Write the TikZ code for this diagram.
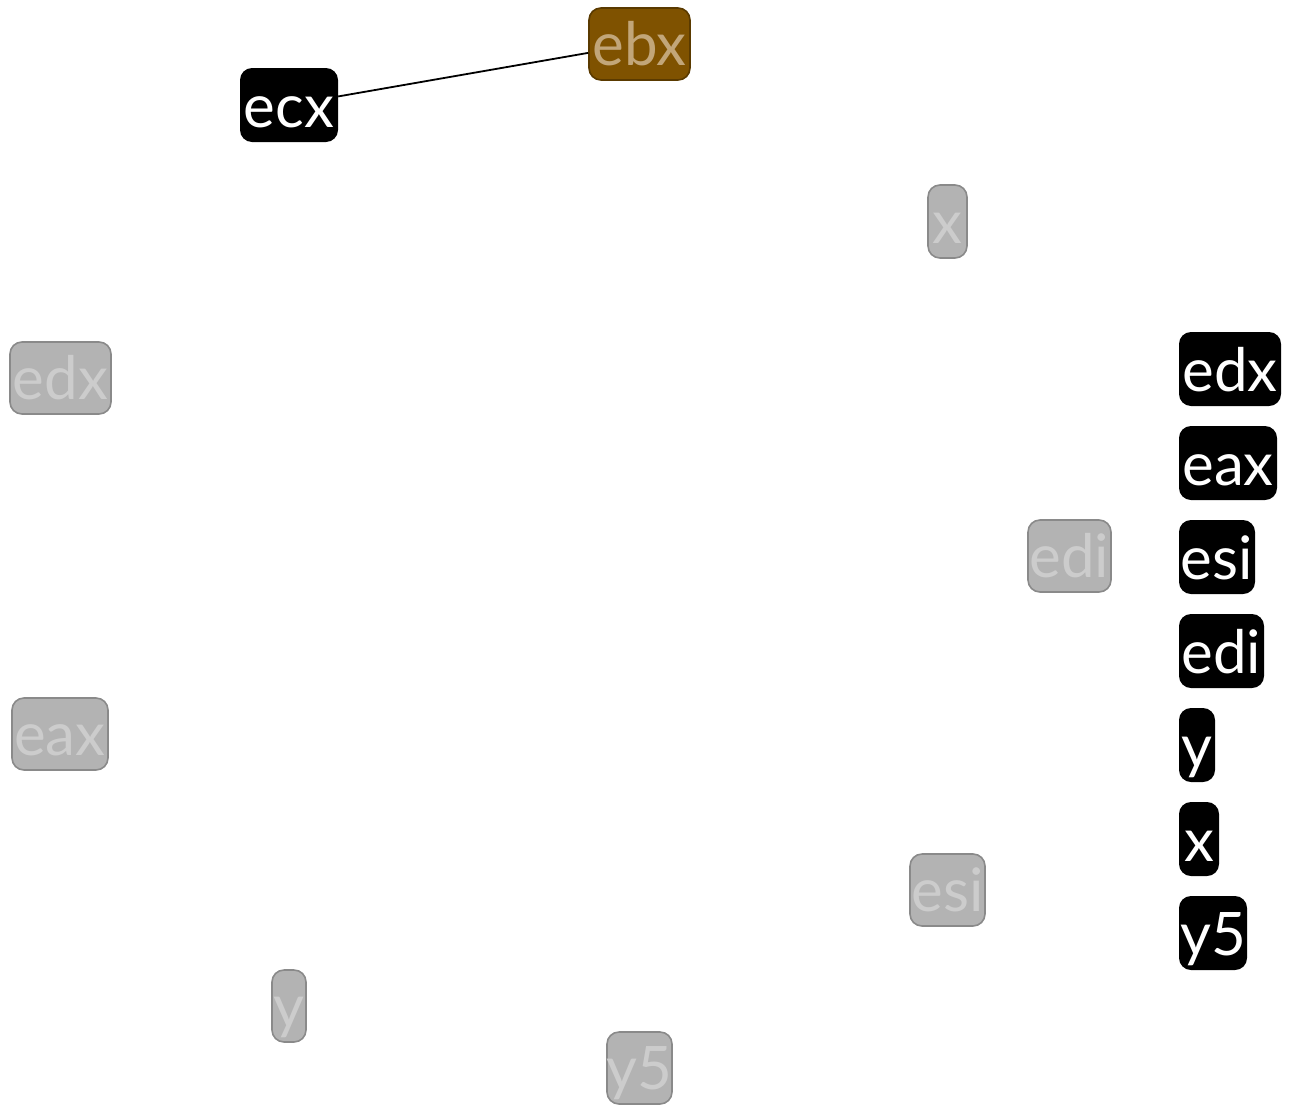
\documentclass[tikz,border=0pt]{standalone}
\usepackage{fontspec}
\setmainfont{Lato}
\definecolor{gfill}{HTML}{B3B3B3}
\definecolor{gline}{HTML}{8A8A8A}
\definecolor{gtext}{HTML}{CCCCCC}
\definecolor{bfill}{HTML}{7F5200}
\definecolor{bline}{HTML}{5A3A00}
\definecolor{btext}{HTML}{C2A679}
\tikzset{
  base/.style={rectangle, rounded corners=12pt, inner sep=0pt},
  gbox/.style={base, draw=gline, fill=gfill, line width=1.6pt},
  kbox/.style={base, fill=black},
  bbox/.style={base, draw=bline, fill=bfill, line width=1.6pt},
  txt/.style={inner sep=0pt, font=\fontsize{60}{72}\selectfont},
  gboxtxt/.style={txt, text=gtext},
  kboxtxt/.style={txt, text=white},
  bboxtxt/.style={txt, text=btext},
  edge/.style={draw=black, line width=1.8pt}
}
\newcommand\regbox[7]{%
  \node[#2, minimum width={#5-#3}, minimum height={#6-#4}] (#1) at ({(#3+#5)/2},{(#4+#6)/2}) {};
  \node[#2txt, anchor=base] (#1-t) at ({(#3+#5)/2},{#6-15}) {#7};}
\begin{document}
\begin{tikzpicture}[x=1pt,y=-1pt]
\useasboundingbox (0,0) rectangle (1289,1111);
\regbox{ebx}{bbox}{589}{8}{690}{80}{ebx}
\regbox{ecx}{kbox}{240}{68}{338}{142}{ecx}
\regbox{gx}{gbox}{928}{185}{967}{258}{x}
\regbox{gedx}{gbox}{10}{342}{111}{414}{edx}
\regbox{kedx}{kbox}{1179}{332}{1281}{406}{edx}
\regbox{keax}{kbox}{1179}{426}{1277}{500}{eax}
\regbox{gedi}{gbox}{1028}{520}{1111}{592}{edi}
\regbox{kesi}{kbox}{1179}{520}{1255}{594}{esi}
\regbox{kedi}{kbox}{1179}{614}{1264}{688}{edi}
\regbox{geax}{gbox}{12}{698}{108}{770}{eax}
\regbox{ky}{kbox}{1179}{708}{1215}{782}{y}
\regbox{kx}{kbox}{1179}{802}{1219}{876}{x}
\regbox{gesi}{gbox}{910}{854}{985}{926}{esi}
\regbox{ky5}{kbox}{1179}{896}{1247}{970}{y5}
\regbox{gy}{gbox}{272}{970}{306}{1042}{y}
\regbox{gy5}{gbox}{607}{1032}{672}{1104}{y5}
\draw[edge] (ecx) -- (ebx);
\end{tikzpicture}
\end{document}
